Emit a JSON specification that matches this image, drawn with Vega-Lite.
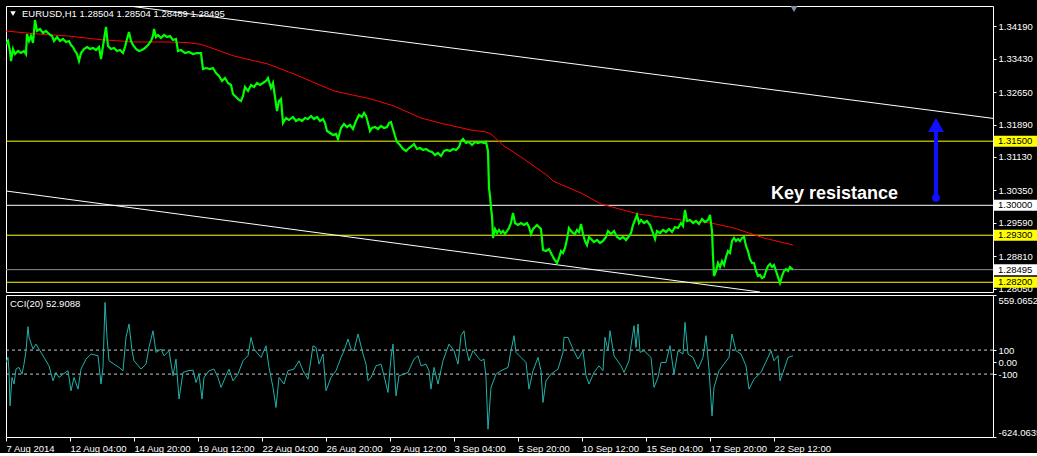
{
"$schema": "https://vega.github.io/schema/vega-lite/v6.json",
"background": "#000000",
"padding": {"left": 5, "top": 5, "right": 0, "bottom": 0},
"spacing": 3,
"bounds": "flush",
"config": {
  "view": {"stroke": "#ffffff", "strokeWidth": 1},
  "axis": {"labelFont": "Liberation Sans", "labelFontSize": 9.5, "labelColor": "#ffffff", "tickColor": "#ffffff", "domain": false, "grid": false, "title": null, "labelOverlap": false, "labelBound": false},
  "text": {"font": "Liberation Sans"}
},
"datasets": {
  "price": [
    {"b":5,"p":1.33773},{"b":7,"p":1.33843},{"b":9,"p":1.33609},{"b":10,"p":1.33375},{"b":12,"p":1.33656},{"b":14,"p":1.33539},{"b":17,"p":1.33609},{"b":20,"p":1.33562},{"b":23,"p":1.33609},{"b":25,"p":1.33539},{"b":26,"p":1.34007},{"b":28,"p":1.33843},{"b":30,"p":1.3396},{"b":32,"p":1.33796},{"b":34,"p":1.34334},{"b":36,"p":1.34077},{"b":39,"p":1.34124},{"b":42,"p":1.3403},{"b":45,"p":1.34077},{"b":48,"p":1.34007},{"b":51,"p":1.3396},{"b":53,"p":1.33843},{"b":56,"p":1.33937},{"b":59,"p":1.33843},{"b":62,"p":1.3389},{"b":65,"p":1.3382},{"b":68,"p":1.33843},{"b":70,"p":1.33749},{"b":72,"p":1.33702},{"b":74,"p":1.33609},{"b":76,"p":1.33539},{"b":78,"p":1.33375},{"b":80,"p":1.33562},{"b":83,"p":1.33656},{"b":86,"p":1.33702},{"b":89,"p":1.33656},{"b":92,"p":1.33679},{"b":95,"p":1.33632},{"b":98,"p":1.33702},{"b":100,"p":1.33422},{"b":102,"p":1.33726},{"b":105,"p":1.34171},{"b":107,"p":1.33726},{"b":110,"p":1.33656},{"b":113,"p":1.33679},{"b":116,"p":1.33609},{"b":119,"p":1.33632},{"b":122,"p":1.33562},{"b":124,"p":1.33702},{"b":126,"p":1.3389},{"b":128,"p":1.34054},{"b":130,"p":1.33843},{"b":132,"p":1.33749},{"b":135,"p":1.33656},{"b":138,"p":1.33609},{"b":141,"p":1.33632},{"b":144,"p":1.33679},{"b":147,"p":1.33749},{"b":150,"p":1.33843},{"b":152,"p":1.3396},{"b":153,"p":1.34124},{"b":155,"p":1.33937},{"b":157,"p":1.33984},{"b":160,"p":1.33913},{"b":163,"p":1.33984},{"b":166,"p":1.33937},{"b":169,"p":1.3396},{"b":172,"p":1.33866},{"b":175,"p":1.3389},{"b":177,"p":1.33609},{"b":180,"p":1.33632},{"b":184,"p":1.33562},{"b":188,"p":1.33586},{"b":192,"p":1.33539},{"b":196,"p":1.33562},{"b":200,"p":1.33562},{"b":202,"p":1.33188},{"b":205,"p":1.33211},{"b":209,"p":1.33188},{"b":212,"p":1.33211},{"b":215,"p":1.33094},{"b":218,"p":1.33024},{"b":221,"p":1.32907},{"b":224,"p":1.32977},{"b":227,"p":1.3286},{"b":230,"p":1.32814},{"b":232,"p":1.32604},{"b":235,"p":1.32534},{"b":238,"p":1.32464},{"b":240,"p":1.3244},{"b":242,"p":1.32557},{"b":244,"p":1.32768},{"b":247,"p":1.32674},{"b":250,"p":1.32814},{"b":253,"p":1.32768},{"b":256,"p":1.3286},{"b":259,"p":1.32814},{"b":262,"p":1.3286},{"b":265,"p":1.32907},{"b":267,"p":1.32977},{"b":270,"p":1.32744},{"b":272,"p":1.3286},{"b":274,"p":1.32534},{"b":276,"p":1.32206},{"b":278,"p":1.3244},{"b":280,"p":1.32487},{"b":282,"p":1.31925},{"b":285,"p":1.32042},{"b":288,"p":1.31995},{"b":292,"p":1.32066},{"b":295,"p":1.31972},{"b":298,"p":1.32019},{"b":301,"p":1.31972},{"b":304,"p":1.32042},{"b":307,"p":1.32019},{"b":310,"p":1.32089},{"b":313,"p":1.32019},{"b":316,"p":1.32066},{"b":319,"p":1.31972},{"b":322,"p":1.32019},{"b":324,"p":1.31925},{"b":326,"p":1.31738},{"b":329,"p":1.31691},{"b":332,"p":1.31644},{"b":335,"p":1.31668},{"b":337,"p":1.31551},{"b":340,"p":1.31808},{"b":343,"p":1.31902},{"b":346,"p":1.31832},{"b":349,"p":1.31878},{"b":352,"p":1.31785},{"b":355,"p":1.31972},{"b":358,"p":1.32113},{"b":361,"p":1.32066},{"b":363,"p":1.3216},{"b":365,"p":1.32089},{"b":367,"p":1.31925},{"b":369,"p":1.31738},{"b":371,"p":1.31808},{"b":374,"p":1.31832},{"b":377,"p":1.31785},{"b":380,"p":1.31855},{"b":383,"p":1.31808},{"b":386,"p":1.31832},{"b":388,"p":1.31925},{"b":390,"p":1.31949},{"b":392,"p":1.31785},{"b":394,"p":1.31621},{"b":396,"p":1.31481},{"b":399,"p":1.31411},{"b":402,"p":1.31317},{"b":405,"p":1.3127},{"b":408,"p":1.3134},{"b":411,"p":1.31387},{"b":413,"p":1.31434},{"b":416,"p":1.31317},{"b":419,"p":1.3134},{"b":422,"p":1.31294},{"b":425,"p":1.31317},{"b":428,"p":1.3127},{"b":431,"p":1.31247},{"b":434,"p":1.31177},{"b":437,"p":1.31223},{"b":440,"p":1.31153},{"b":443,"p":1.3127},{"b":446,"p":1.31294},{"b":449,"p":1.3127},{"b":452,"p":1.31317},{"b":455,"p":1.31294},{"b":458,"p":1.31364},{"b":460,"p":1.31504},{"b":462,"p":1.31551},{"b":465,"p":1.31457},{"b":468,"p":1.31481},{"b":471,"p":1.31411},{"b":474,"p":1.31481},{"b":477,"p":1.31457},{"b":480,"p":1.31481},{"b":483,"p":1.31457},{"b":485,"p":1.31481},{"b":487,"p":1.3127},{"b":488,"p":1.30404},{"b":489,"p":1.30217},{"b":490,"p":1.29937},{"b":491,"p":1.2975},{"b":492,"p":1.29235},{"b":494,"p":1.29446},{"b":496,"p":1.29352},{"b":498,"p":1.29423},{"b":500,"p":1.29352},{"b":502,"p":1.29399},{"b":504,"p":1.29329},{"b":506,"p":1.29399},{"b":508,"p":1.29469},{"b":510,"p":1.29586},{"b":512,"p":1.2982},{"b":514,"p":1.29586},{"b":517,"p":1.29539},{"b":520,"p":1.29586},{"b":523,"p":1.29539},{"b":526,"p":1.29586},{"b":528,"p":1.29493},{"b":530,"p":1.29329},{"b":532,"p":1.29446},{"b":534,"p":1.29493},{"b":536,"p":1.29539},{"b":538,"p":1.29493},{"b":540,"p":1.29446},{"b":542,"p":1.28954},{"b":545,"p":1.28931},{"b":548,"p":1.28978},{"b":550,"p":1.28884},{"b":553,"p":1.28744},{"b":556,"p":1.2865},{"b":558,"p":1.28767},{"b":560,"p":1.28931},{"b":562,"p":1.28884},{"b":564,"p":1.29001},{"b":566,"p":1.29212},{"b":568,"p":1.29469},{"b":570,"p":1.29399},{"b":572,"p":1.29352},{"b":574,"p":1.29329},{"b":576,"p":1.29423},{"b":578,"p":1.29376},{"b":580,"p":1.29563},{"b":582,"p":1.29329},{"b":584,"p":1.29165},{"b":586,"p":1.29071},{"b":588,"p":1.29259},{"b":590,"p":1.29212},{"b":593,"p":1.29142},{"b":596,"p":1.29188},{"b":599,"p":1.29118},{"b":602,"p":1.29165},{"b":605,"p":1.29259},{"b":607,"p":1.29399},{"b":610,"p":1.29329},{"b":613,"p":1.29399},{"b":616,"p":1.29259},{"b":619,"p":1.29212},{"b":622,"p":1.29259},{"b":625,"p":1.29188},{"b":628,"p":1.29282},{"b":630,"p":1.29352},{"b":632,"p":1.29539},{"b":634,"p":1.29656},{"b":636,"p":1.29773},{"b":638,"p":1.29586},{"b":640,"p":1.29656},{"b":643,"p":1.29586},{"b":646,"p":1.29633},{"b":649,"p":1.29539},{"b":652,"p":1.29352},{"b":654,"p":1.29212},{"b":656,"p":1.29399},{"b":659,"p":1.29352},{"b":662,"p":1.29423},{"b":665,"p":1.29376},{"b":668,"p":1.29446},{"b":671,"p":1.29376},{"b":674,"p":1.29493},{"b":677,"p":1.29469},{"b":680,"p":1.29586},{"b":682,"p":1.29516},{"b":684,"p":1.2989},{"b":686,"p":1.29633},{"b":689,"p":1.29656},{"b":692,"p":1.29586},{"b":695,"p":1.29633},{"b":698,"p":1.29563},{"b":701,"p":1.2968},{"b":704,"p":1.29609},{"b":707,"p":1.29656},{"b":709,"p":1.29773},{"b":711,"p":1.29399},{"b":712,"p":1.28814},{"b":713,"p":1.28346},{"b":715,"p":1.28463},{"b":717,"p":1.2865},{"b":719,"p":1.28556},{"b":721,"p":1.28697},{"b":723,"p":1.28603},{"b":725,"p":1.2879},{"b":727,"p":1.28931},{"b":729,"p":1.28884},{"b":731,"p":1.29165},{"b":733,"p":1.29235},{"b":735,"p":1.29165},{"b":737,"p":1.29212},{"b":739,"p":1.29165},{"b":741,"p":1.29235},{"b":743,"p":1.29259},{"b":745,"p":1.29048},{"b":747,"p":1.28931},{"b":749,"p":1.28744},{"b":751,"p":1.2865},{"b":753,"p":1.2865},{"b":755,"p":1.28463},{"b":757,"p":1.28346},{"b":759,"p":1.28369},{"b":761,"p":1.28299},{"b":763,"p":1.28322},{"b":765,"p":1.28463},{"b":767,"p":1.2858},{"b":769,"p":1.28627},{"b":771,"p":1.28556},{"b":773,"p":1.28603},{"b":775,"p":1.28463},{"b":777,"p":1.28322},{"b":779,"p":1.28182},{"b":781,"p":1.28346},{"b":783,"p":1.28463},{"b":785,"p":1.2851},{"b":787,"p":1.28463},{"b":789,"p":1.28556},{"b":791,"p":1.2851},{"b":792,"p":1.28495}
  ],
  "ma": [
    {"b":5,"p":1.34077},{"b":33,"p":1.34014},{"b":67,"p":1.3396},{"b":100,"p":1.33874},{"b":133,"p":1.3382},{"b":167,"p":1.3382},{"b":187,"p":1.33805},{"b":200,"p":1.33767},{"b":233,"p":1.33492},{"b":267,"p":1.33305},{"b":293,"p":1.33071},{"b":333,"p":1.32674},{"b":370,"p":1.32487},{"b":393,"p":1.32323},{"b":420,"p":1.32042},{"b":443,"p":1.31902},{"b":470,"p":1.31761},{"b":485,"p":1.31715},{"b":490,"p":1.31668},{"b":503,"p":1.31387},{"b":523,"p":1.31083},{"b":547,"p":1.30685},{"b":552,"p":1.30568},{"b":580,"p":1.30288},{"b":600,"p":1.3003},{"b":637,"p":1.29797},{"b":680,"p":1.29656},{"b":710,"p":1.29586},{"b":733,"p":1.29469},{"b":763,"p":1.29235},{"b":792,"p":1.29071}
  ],
  "trend": [
    {"line":"upper","b":128,"p":1.34662},{"line":"upper","b":992,"p":1.32033},
    {"line":"lower","b":5,"p":1.30335},{"line":"lower","b":759,"p":1.27972}
  ],
  "levels": [
    {"p":1.315,"k":"y","t":"1.31500"},{"p":1.3,"k":"w","t":"1.30000"},{"p":1.293,"k":"y","t":"1.29300"},{"p":1.28495,"k":"g","t":"1.28495"},{"p":1.282,"k":"y","t":"1.28200"}
  ],
  "cci": [
    {"b":5,"c":-3},{"b":7,"c":39},{"b":8,"c":-72},{"b":9,"c":-364},{"b":11,"c":-128},{"b":13,"c":-183},{"b":15,"c":-58},{"b":18,"c":-44},{"b":21,"c":-100},{"b":23,"c":-17},{"b":25,"c":95},{"b":27,"c":295},{"b":28,"c":206},{"b":32,"c":108},{"b":35,"c":150},{"b":38,"c":108},{"b":43,"c":39},{"b":48,"c":-31},{"b":52,"c":-156},{"b":55,"c":-86},{"b":58,"c":-128},{"b":62,"c":-100},{"b":67,"c":-72},{"b":70,"c":-239},{"b":73,"c":-128},{"b":77,"c":-225},{"b":80,"c":-58},{"b":85,"c":25},{"b":90,"c":67},{"b":97,"c":53},{"b":100,"c":-183},{"b":102,"c":-44},{"b":104,"c":498},{"b":106,"c":206},{"b":108,"c":11},{"b":113,"c":-17},{"b":118,"c":-44},{"b":122,"c":-72},{"b":125,"c":206},{"b":128,"c":317},{"b":131,"c":95},{"b":133,"c":11},{"b":140,"c":-58},{"b":145,"c":-17},{"b":148,"c":122},{"b":152,"c":261},{"b":155,"c":81},{"b":160,"c":108},{"b":163,"c":53},{"b":168,"c":95},{"b":172,"c":-114},{"b":175,"c":25},{"b":178,"c":-308},{"b":182,"c":-86},{"b":187,"c":-72},{"b":192,"c":-67},{"b":195,"c":-170},{"b":198,"c":-100},{"b":201,"c":-308},{"b":203,"c":-128},{"b":208,"c":-72},{"b":213,"c":-58},{"b":217,"c":-128},{"b":220,"c":-211},{"b":225,"c":-114},{"b":228,"c":-58},{"b":232,"c":-156},{"b":237,"c":-100},{"b":242,"c":11},{"b":247,"c":53},{"b":250,"c":206},{"b":253,"c":108},{"b":260,"c":39},{"b":265,"c":136},{"b":268,"c":-44},{"b":272,"c":-211},{"b":275,"c":-378},{"b":278,"c":-128},{"b":283,"c":-183},{"b":287,"c":-72},{"b":293,"c":-58},{"b":298,"c":11},{"b":302,"c":-72},{"b":307,"c":-142},{"b":312,"c":136},{"b":315,"c":122},{"b":318,"c":-17},{"b":322,"c":67},{"b":325,"c":-239},{"b":330,"c":-128},{"b":335,"c":-72},{"b":340,"c":39},{"b":343,"c":95},{"b":347,"c":192},{"b":350,"c":108},{"b":353,"c":95},{"b":357,"c":234},{"b":362,"c":67},{"b":365,"c":-17},{"b":367,"c":-156},{"b":370,"c":-128},{"b":375,"c":-31},{"b":380,"c":-17},{"b":383,"c":-114},{"b":387,"c":-253},{"b":390,"c":39},{"b":392,"c":150},{"b":395,"c":-281},{"b":398,"c":-114},{"b":403,"c":-100},{"b":407,"c":-86},{"b":413,"c":25},{"b":417,"c":53},{"b":420,"c":-31},{"b":425,"c":-17},{"b":428,"c":-72},{"b":430,"c":-225},{"b":433,"c":-44},{"b":437,"c":-183},{"b":442,"c":11},{"b":448,"c":150},{"b":453,"c":95},{"b":457,"c":-17},{"b":460,"c":220},{"b":463,"c":261},{"b":465,"c":122},{"b":468,"c":11},{"b":472,"c":95},{"b":477,"c":39},{"b":480,"c":11},{"b":483,"c":25},{"b":485,"c":-128},{"b":487,"c":-559},{"b":490,"c":-211},{"b":495,"c":-100},{"b":500,"c":-72},{"b":507,"c":-44},{"b":510,"c":95},{"b":513,"c":220},{"b":515,"c":81},{"b":520,"c":39},{"b":525,"c":-3},{"b":528,"c":-225},{"b":532,"c":-72},{"b":537,"c":39},{"b":540,"c":-72},{"b":542,"c":-336},{"b":545,"c":-156},{"b":550,"c":-100},{"b":557,"c":-58},{"b":562,"c":81},{"b":563,"c":206},{"b":567,"c":206},{"b":572,"c":108},{"b":577,"c":25},{"b":582,"c":95},{"b":585,"c":-114},{"b":588,"c":-183},{"b":593,"c":-86},{"b":598,"c":-31},{"b":602,"c":-72},{"b":604,"c":206},{"b":607,"c":95},{"b":609,"c":261},{"b":613,"c":53},{"b":620,"c":-31},{"b":623,"c":-86},{"b":628,"c":11},{"b":630,"c":136},{"b":633,"c":303},{"b":635,"c":122},{"b":637,"c":317},{"b":639,"c":81},{"b":643,"c":95},{"b":650,"c":39},{"b":653,"c":-211},{"b":657,"c":-128},{"b":660,"c":-3},{"b":665,"c":-3},{"b":669,"c":136},{"b":673,"c":-100},{"b":677,"c":95},{"b":682,"c":67},{"b":684,"c":331},{"b":687,"c":67},{"b":692,"c":39},{"b":697,"c":-58},{"b":702,"c":39},{"b":705,"c":220},{"b":708,"c":-58},{"b":711,"c":-448},{"b":713,"c":-211},{"b":718,"c":-72},{"b":723,"c":-17},{"b":728,"c":39},{"b":731,"c":234},{"b":735,"c":95},{"b":740,"c":67},{"b":745,"c":-31},{"b":748,"c":-225},{"b":753,"c":-142},{"b":760,"c":-86},{"b":767,"c":39},{"b":770,"c":95},{"b":773,"c":11},{"b":777,"c":53},{"b":779,"c":-156},{"b":782,"c":-86},{"b":787,"c":39},{"b":792,"c":53}
  ]
},
"vconcat": [
  {
    "width": 987,
    "height": 286,
    "resolve": {"axis": {"y": "independent", "x": "independent"}},
    "layer": [
      {
        "data": {"name": "levels"},
        "mark": {"type": "rule", "strokeWidth": 1},
        "encoding": {
          "y": {"field": "p", "type": "quantitative", "scale": {"domain": [1.27972, 1.34662], "nice": false, "zero": false},
                "axis": {"orient": "right", "values": [1.3419, 1.3343, 1.3265, 1.3189, 1.3113, 1.3035, 1.2959, 1.2881, 1.2805], "format": ".5f", "tickSize": 3, "labelPadding": 2, "labelBound": false, "labelOverlap": false}},
          "stroke": {"field": "k", "type": "nominal", "scale": {"domain": ["y", "w", "g"], "range": ["#ffff00", "#ffffff", "#8c8c8c"]}, "legend": null}
        }
      },
      {
        "data": {"name": "trend"},
        "mark": {"type": "line", "color": "#ffffff", "strokeWidth": 1, "clip": true},
        "encoding": {
          "x": {"field": "b", "type": "quantitative", "scale": {"domain": [5, 992], "nice": false, "zero": false}, "axis": null},
          "y": {"field": "p", "type": "quantitative", "axis": null},
          "detail": {"field": "line"}
        }
      },
      {
        "data": {"name": "ma"},
        "mark": {"type": "line", "color": "#ff0000", "strokeWidth": 1, "clip": true},
        "encoding": {
          "x": {"field": "b", "type": "quantitative", "axis": null},
          "y": {"field": "p", "type": "quantitative", "axis": null}
        }
      },
      {
        "data": {"name": "price"},
        "mark": {"type": "line", "color": "#00ff00", "strokeWidth": 2.2, "clip": true},
        "encoding": {
          "x": {"field": "b", "type": "quantitative", "axis": null},
          "y": {"field": "p", "type": "quantitative", "axis": null}
        }
      },
      {
        "data": {"values": [{}]},
        "mark": {"type": "rule", "color": "#1010ff", "strokeWidth": 4},
        "encoding": {
          "x": {"datum": 935, "type": "quantitative", "axis": null},
          "y": {"datum": 1.30171, "type": "quantitative", "axis": null},
          "y2": {"datum": 1.3183}
        }
      },
      {
        "data": {"values": [{}]},
        "mark": {"type": "point", "shape": "triangle-up", "size": 256, "filled": true, "color": "#1010ff", "opacity": 1},
        "encoding": {
          "x": {"datum": 935, "type": "quantitative", "axis": null},
          "y": {"datum": 1.31879, "type": "quantitative", "axis": null}
        }
      },
      {
        "data": {"values": [{}]},
        "mark": {"type": "point", "shape": "circle", "size": 60, "filled": true, "color": "#1010ff", "opacity": 1},
        "encoding": {
          "x": {"datum": 935, "type": "quantitative", "axis": null},
          "y": {"datum": 1.30171, "type": "quantitative", "axis": null}
        }
      },
      {
        "data": {"values": [{}]},
        "mark": {"type": "text", "text": "Key resistance", "font": "Liberation Sans", "fontSize": 18, "fontWeight": "bold", "color": "#ffffff", "align": "left", "baseline": "middle"},
        "encoding": {
          "x": {"datum": 770, "type": "quantitative", "axis": null},
          "y": {"datum": 1.30264, "type": "quantitative", "axis": null}
        }
      },
      {
        "data": {"values": [{}]},
        "mark": {"type": "text", "text": "EURUSD,H1  1.28504 1.28504 1.28489 1.28495", "fontSize": 9.5, "color": "#ffffff", "align": "left", "baseline": "middle"},
        "encoding": {
          "x": {"datum": 21, "type": "quantitative", "axis": null},
          "y": {"datum": 1.34483, "type": "quantitative", "axis": null}
        }
      },
      {
        "data": {"values": [{}]},
        "mark": {"type": "point", "shape": "triangle-down", "size": 30, "filled": true, "color": "#ffffff", "opacity": 1},
        "encoding": {
          "x": {"datum": 12, "type": "quantitative", "axis": null},
          "y": {"datum": 1.34483, "type": "quantitative", "axis": null}
        }
      },
      {
        "data": {"values": [{}]},
        "mark": {"type": "point", "shape": "triangle-down", "size": 50, "filled": true, "color": "#8090a8", "opacity": 1},
        "encoding": {
          "x": {"datum": 793, "type": "quantitative", "axis": null},
          "y": {"datum": 1.34593, "type": "quantitative", "axis": null}
        }
      },
      {
        "data": {"name": "levels"},
        "mark": {"type": "rect", "height": 11},
        "encoding": {
          "x": {"datum": 993, "type": "quantitative", "axis": null},
          "x2": {"datum": 1036},
          "y": {"field": "p", "type": "quantitative", "axis": null},
          "fill": {"field": "k", "type": "nominal", "scale": {"domain": ["y", "w", "g"], "range": ["#ffff00", "#ffffff", "#ffffff"]}, "legend": null}
        }
      },
      {
        "data": {"name": "levels"},
        "mark": {"type": "text", "fontSize": 9.5, "color": "#000000", "align": "left", "baseline": "middle"},
        "encoding": {
          "x": {"datum": 997, "type": "quantitative", "axis": null},
          "y": {"field": "p", "type": "quantitative", "axis": null},
          "text": {"field": "t"}
        }
      }
    ]
  },
  {
    "width": 987,
    "height": 142,
    "resolve": {"axis": {"y": "independent", "x": "independent"}},
    "layer": [
      {
        "data": {"values": [{"c": 100}, {"c": -100}]},
        "mark": {"type": "rule", "color": "#c8c8c8", "strokeDash": [3, 3], "strokeWidth": 1},
        "encoding": {
          "y": {"field": "c", "type": "quantitative", "scale": {"domain": [-624.0635, 559.0652], "nice": false, "zero": false},
                "axis": {"orient": "right", "values": [559.0652, 100, 0, -100, -624.0635], "tickSize": 3, "labelPadding": 2, "labelBound": false, "labelOverlap": false,
                         "labelExpr": "datum.value > 500 ? '559.0652' : datum.value < -500 ? '-624.0635' : datum.value == 0 ? '0.00' : datum.value > 0 ? '100' : '-100'",
                         "labelBaseline": {"condition": [{"test": "datum.value > 500", "value": "top"}, {"test": "datum.value < -500", "value": "bottom"}], "value": "middle"}}}
        }
      },
      {
        "data": {"name": "cci"},
        "mark": {"type": "line", "color": "#20b2aa", "strokeWidth": 1, "clip": true},
        "encoding": {
          "x": {"field": "b", "type": "quantitative", "scale": {"domain": [5, 992], "nice": false, "zero": false},
                "axis": {"orient": "bottom", "values": [5, 69, 133, 197, 261, 325, 389, 453, 517, 581, 645, 709, 773], "tickSize": 4, "labelPadding": 2, "labelAlign": "left", "labelFlush": false, "labelBound": false, "labelOverlap": false,
                         "labelExpr": "{'5':'7 Aug 2014','69':'12 Aug 04:00','133':'14 Aug 20:00','197':'19 Aug 12:00','261':'22 Aug 04:00','325':'26 Aug 20:00','389':'29 Aug 12:00','453':'3 Sep 04:00','517':'5 Sep 20:00','581':'10 Sep 12:00','645':'15 Sep 04:00','709':'17 Sep 20:00','773':'22 Sep 12:00'}[datum.value + '']"}},
          "y": {"field": "c", "type": "quantitative", "axis": null}
        }
      },
      {
        "data": {"values": [{}]},
        "mark": {"type": "text", "text": "CCI(20) 52.9088", "fontSize": 9.5, "color": "#ffffff", "align": "left", "baseline": "middle"},
        "encoding": {
          "x": {"datum": 9, "type": "quantitative", "axis": null},
          "y": {"datum": 488, "type": "quantitative", "axis": null}
        }
      }
    ]
  }
]
}
